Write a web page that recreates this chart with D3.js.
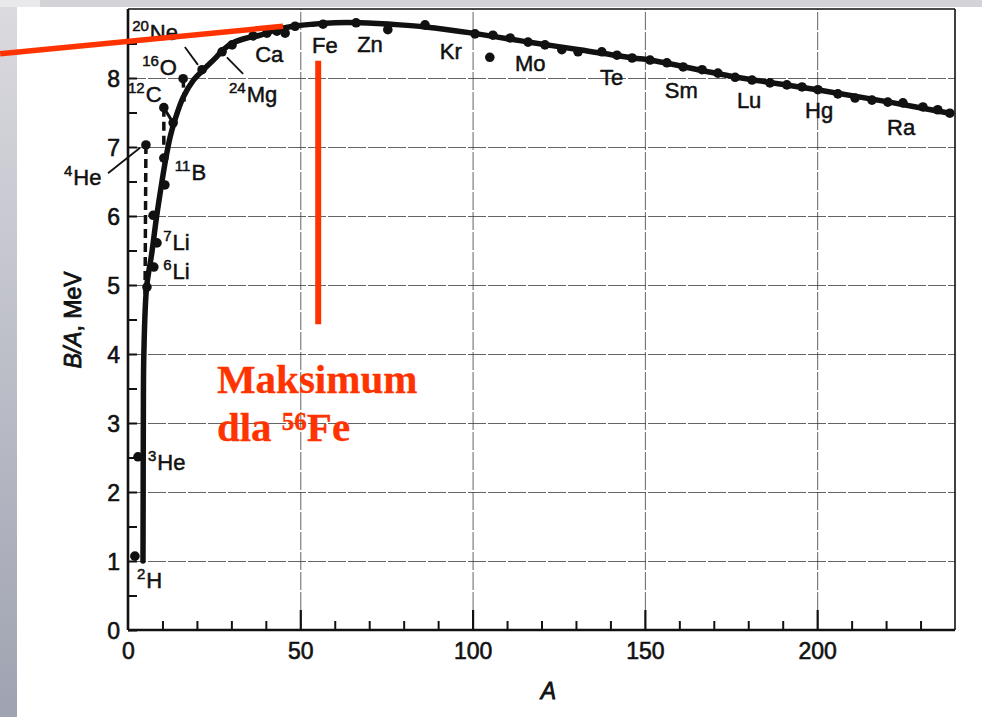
<!DOCTYPE html>
<html>
<head>
<meta charset="utf-8">
<script src="https://cdn.jsdelivr.net/npm/d3@7"></script>
<style>
  body { margin: 0; background: #fff; }
  svg { display: block; font-family: "Liberation Sans", Arial, Helvetica, sans-serif; }
  .grid line { stroke: #3c3c3c; stroke-width: 0.8; stroke-dasharray: 18 2; }
  .ticklabel text { font-size: 23px; fill: #111; stroke: #111; stroke-width: 0.6; }
  .nuclide { font-size: 22px; fill: #111; stroke: #111; stroke-width: 0.5; }
  .red { fill: #ff3300; stroke: #ff3300; }
</style>
</head>
<body>
<script>
// binding energy per nucleon

// measured nuclides (dots): mass number A and B/A in MeV
var dotA = [2.0, 2.9, 5.2, 5.5, 7.5, 8.4, 7.3, 10.7, 10.4, 10.4, 13.1, 16.0, 21.5,
  27.3, 30.2, 36.3, 40.3, 43.2, 45.6, 48.5, 56.6, 66.2, 75.4, 86.2, 100.7, 105.0,
  105.9, 110.9, 116.1, 121.0, 125.9, 130.6, 137.5, 141.9, 146.3, 151.5, 156.4,
  161.1, 166.6, 171.2, 176.2, 181.1, 186.3, 191.2, 195.6, 200.2, 206.0, 211.0,
  215.9, 220.5, 224.9, 230.7, 235.0, 238.5];
var dotB = [1.07, 2.51, 7.03, 4.97, 5.26, 5.61, 6.01, 6.45, 6.84, 7.57, 7.35, 7.99, 8.12,
  8.38, 8.48, 8.61, 8.65, 8.68, 8.65, 8.75, 8.78, 8.80, 8.70, 8.77, 8.64, 8.30,
  8.62, 8.58, 8.52, 8.48, 8.41, 8.38, 8.38, 8.33, 8.29, 8.26, 8.22,
  8.16, 8.12, 8.07, 8.01, 7.97, 7.93, 7.90, 7.87, 7.83, 7.77, 7.71,
  7.68, 7.65, 7.64, 7.58, 7.54, 7.49];

// smooth solid curve through the data
var curveA = [4.35, 4.4, 4.45, 4.6, 5.4, 6.9, 8.3, 9.8, 10.9, 12.2, 13.6, 16.0, 19.0,
  22.3, 25.2, 27.6, 30.5, 34.5, 38.3, 43.2, 47.9, 53.7, 60, 67.3, 78.9, 86.2, 100,
  117.5, 131, 146.5, 151.5, 174.7, 200, 221, 238.5];
var curveB = [1.0, 2.0, 3.0, 4.0, 4.97, 5.46, 5.99, 6.48, 6.81, 7.14, 7.39, 7.72, 7.97,
  8.14, 8.28, 8.41, 8.51, 8.58, 8.62, 8.70, 8.75, 8.78, 8.80, 8.80, 8.77, 8.74, 8.65,
  8.51, 8.41, 8.29, 8.26, 8.03, 7.83, 7.65, 7.49];

// dashed drops from 4He, 12C, 16O back to the curve
var dashFromA = [5.2, 10.4, 16.0];
var dashFromB = [7.03, 7.57, 7.99];
var dashToA = [4.9, 10.4, 16.3];
var dashToB = [4.5, 6.96, 7.65];

// nuclide labels (superscript mass number + symbol), anchored in data units
var labelSup = ["20", "16", "12", "4", "11", "7", "6", "3", "2", "24", "", "", "", "", "", "", "", "", "", ""];
var labelSym = ["Ne", "O", "C", "He", "B", "Li", "Li", "He", "H", "Mg", "Ca", "Fe", "Zn", "Kr", "Mo", "Te", "Sm", "Lu", "Hg", "Ra"];
var labelA = [1.2, 4.1, 0.0, -18.6, 13.6, 10.2, 10.2, 5.8, 2.6, 29.3, 36.9, 53.4, 66.5, 90.5, 112.3, 137, 155.8, 176.7, 196.5, 220.3];
var labelB = [8.55, 8.04, 7.65, 6.45, 6.52, 5.51, 5.09, 2.32, 0.61, 7.65, 8.23, 8.36, 8.38, 8.28, 8.10, 7.90, 7.71, 7.57, 7.42, 7.17];

// leader lines from label to point
var leaderA1 = [-5.8, 16.5, 28.7];
var leaderB1 = [6.62, 8.45, 8.30];
var leaderA2 = [3.5, 20.3, 33.4];
var leaderB2 = [6.99, 8.19, 8.06];

// ticks
var yTicks = [0, 1, 2, 3, 4, 5, 6, 7, 8];
var yMinor = [0.5, 1.5, 2.5, 3.5, 4.5, 5.5, 6.5, 7.5, 8.5];
var xTicks = [0, 50, 100, 150, 200];
var xMinor = [10, 20, 30, 40, 60, 70, 80, 90, 110, 120, 130, 140, 160, 170, 180, 190, 210, 220, 230];
var xMajor = [50, 100, 150, 200];

var width = 982, height = 717;

var svg = d3.select("body").append("svg")
  .attr("width", width)
  .attr("height", height);

// slide background strips
var grad = svg.append("defs").append("linearGradient")
  .attr("id", "side").attr("x1", 0).attr("y1", 0).attr("x2", 0).attr("y2", 1);
grad.append("stop").attr("offset", "0%").attr("stop-color", "#dadadf");
grad.append("stop").attr("offset", "100%").attr("stop-color", "#9fa3b1");

svg.append("rect").attr("x", 0).attr("y", 0).attr("width", 40).attr("height", 7).attr("fill", "#e9e9ec");
svg.append("rect").attr("x", 40).attr("y", 0).attr("width", width - 40).attr("height", 7).attr("fill", "#d3d3d8");
svg.append("rect").attr("x", 0).attr("y", 7).attr("width", 17).attr("height", height - 7).attr("fill", "url(#side)");

var x = d3.scaleLinear().domain([0, 240]).range([128, 955]);
var y = d3.scaleLinear().domain([0, 9]).range([630, 9]);

var g = {
  grid: svg.append("g").attr("id", "grid"),
  axes: svg.append("g").attr("id", "axes"),
  curve: svg.append("g").attr("id", "curve"),
  dots: svg.append("g").attr("id", "dots"),
  labels: svg.append("g").attr("id", "labels"),
  red: svg.append("g").attr("id", "red")
};

// gridlines + tick labels
var yAxis = d3.axisLeft(y).tickValues(yTicks).tickSize(-(x(240) - x(0))).tickPadding(8);
g.grid.append("g").attr("class", "grid ticklabel")
  .attr("transform", translate(x(0), 0))
  .call(yAxis)
  .call(function(s) { s.select(".domain").remove(); })
  .call(function(s) { s.selectAll("text").attr("font-family", null).attr("dy", "0.38em"); });

var xAxis = d3.axisBottom(x).tickValues(xTicks).tickSize(-(y(0) - y(9))).tickPadding(13);
g.grid.append("g").attr("class", "grid ticklabel")
  .attr("transform", translate(0, y(0)))
  .call(xAxis)
  .call(function(s) { s.select(".domain").remove(); })
  .call(function(s) { s.selectAll("text").attr("font-family", null); });

// inner ticks
g.axes.append("g")
  .attr("transform", translate(x(0), 0))
  .call(d3.axisLeft(y).tickValues(yMinor.concat(yTicks)).tickSize(-9).tickFormat(""))
  .call(function(s) { s.select(".domain").remove(); s.selectAll("line").attr("stroke", "#111").attr("stroke-width", 2); });

g.axes.append("g")
  .attr("transform", translate(0, y(0)))
  .call(d3.axisBottom(x).tickValues(xMinor).tickSize(-9).tickFormat(""))
  .call(function(s) { s.select(".domain").remove(); s.selectAll("line").attr("stroke", "#111").attr("stroke-width", 2); });

g.axes.append("g")
  .attr("transform", translate(0, y(0)))
  .call(d3.axisBottom(x).tickValues(xMajor).tickSize(-20).tickFormat(""))
  .call(function(s) { s.select(".domain").remove(); s.selectAll("line").attr("stroke", "#111").attr("stroke-width", 2.2); });

// frame
g.axes.append("line").attr("x1", x(0)).attr("x2", x(0)).attr("y1", y(9)).attr("y2", y(0))
  .attr("stroke", "#111").attr("stroke-width", 2.6);
g.axes.append("line").attr("x1", x(0)).attr("x2", x(240)).attr("y1", y(0)).attr("y2", y(0))
  .attr("stroke", "#111").attr("stroke-width", 2.6);
g.axes.append("line").attr("x1", x(0)).attr("x2", x(240)).attr("y1", y(9)).attr("y2", y(9))
  .attr("stroke", "#111").attr("stroke-width", 1.6);
g.axes.append("line").attr("x1", x(240)).attr("x2", x(240)).attr("y1", y(9)).attr("y2", y(0))
  .attr("stroke", "#111").attr("stroke-width", 1.6);

// axis titles
var ytitle = g.axes.append("text")
  .attr("transform", translate(81, 320) + " rotate(-90)")
  .attr("text-anchor", "middle")
  .attr("font-size", 23)
  .attr("fill", "#111").attr("stroke", "#111").attr("stroke-width", 0.8);
ytitle.append("tspan").attr("font-style", "italic").text("B/A");
ytitle.append("tspan").text(", MeV");

g.axes.append("text")
  .attr("x", x(122)).attr("y", 699)
  .attr("text-anchor", "middle")
  .attr("font-size", 23)
  .attr("font-style", "italic")
  .attr("fill", "#111").attr("stroke", "#111").attr("stroke-width", 0.8)
  .text("A");

// solid curve
var curveData = curveA.map(function(a, i) { return [a, curveB[i]]; });
var line = d3.line()
  .x(function(d) { return x(d[0]); })
  .y(function(d) { return y(d[1]); })
  .curve(d3.curveCatmullRom.alpha(0.5));

g.curve.append("path")
  .datum(curveData)
  .attr("d", line)
  .attr("fill", "none")
  .attr("stroke", "#111")
  .attr("stroke-width", 5.5)
  .attr("stroke-linecap", "round")
  .attr("stroke-linejoin", "round");

// dashed drops
g.curve.selectAll("line.dash")
  .data(dashFromA)
  .enter()
  .append("line")
  .attr("class", "dash")
  .attr("x1", function(d) { return x(d); })
  .attr("y1", function(d, i) { return y(dashFromB[i]); })
  .attr("x2", function(d, i) { return x(dashToA[i]); })
  .attr("y2", function(d, i) { return y(dashToB[i]); })
  .attr("stroke", "#111")
  .attr("stroke-width", 3.5)
  .attr("stroke-dasharray", "9 5");

// 12C joined to its neighbour on the curve
g.curve.append("line")
  .attr("x1", x(dotA[9])).attr("y1", y(dotB[9]))
  .attr("x2", x(dotA[10])).attr("y2", y(dotB[10]))
  .attr("stroke", "#111").attr("stroke-width", 3);

// leaders
g.labels.selectAll("line.leader")
  .data(leaderA1)
  .enter()
  .append("line")
  .attr("class", "leader")
  .attr("x1", function(d) { return x(d); })
  .attr("y1", function(d, i) { return y(leaderB1[i]); })
  .attr("x2", function(d, i) { return x(leaderA2[i]); })
  .attr("y2", function(d, i) { return y(leaderB2[i]); })
  .attr("stroke", "#111")
  .attr("stroke-width", 1.8);

// dots
g.dots.selectAll("circle")
  .data(dotA)
  .enter()
  .append("circle")
  .attr("cx", function(d) { return x(d); })
  .attr("cy", function(d, i) { return y(dotB[i]); })
  .attr("r", 4.8)
  .attr("fill", "#111");

// nuclide labels
var lab = g.labels.selectAll("text.nuclide")
  .data(labelSym)
  .enter()
  .append("text")
  .attr("class", "nuclide")
  .attr("x", function(d, i) { return x(labelA[i]); })
  .attr("y", function(d, i) { return y(labelB[i]); });

lab.append("tspan")
  .attr("font-size", 15)
  .attr("dy", function(d, i) { return labelSup[i] ? -9 : 0; })
  .text(function(d, i) { return labelSup[i]; });
lab.append("tspan")
  .attr("dy", function(d, i) { return labelSup[i] ? 9 : 0; })
  .attr("dx", function(d, i) { return labelSup[i] ? 1 : 0; })
  .text(function(d) { return d; });

// red annotation (iron maximum)
var redSlopeA = [-37.1, 45.0];
var redSlopeB = [8.35, 8.75];
var redFeA = 55.2;
var redFeB = [8.25, 4.43];

g.red.append("line")
  .attr("x1", x(redSlopeA[0])).attr("y1", y(redSlopeB[0]))
  .attr("x2", x(redSlopeA[1])).attr("y2", y(redSlopeB[1]))
  .attr("stroke", "#ff3300").attr("stroke-width", 5.5);

g.red.append("line")
  .attr("x1", x(redFeA)).attr("y1", y(redFeB[0]))
  .attr("x2", x(redFeA)).attr("y2", y(redFeB[1]))
  .attr("stroke", "#ff3300").attr("stroke-width", 6);

var redText = g.red.append("text")
  .attr("class", "red")
  .attr("font-family", "'Liberation Serif', 'Times New Roman', serif")
  .attr("font-weight", "bold")
  .attr("font-size", 41)
  .attr("stroke-width", 0.3);
redText.append("tspan").attr("x", x(25.8)).attr("y", y(3.43)).text("Maksimum");
redText.append("tspan").attr("x", x(25.8)).attr("y", y(2.74)).text("dla ");
redText.append("tspan").attr("font-size", 25).attr("dy", -11).text("56");
redText.append("tspan").attr("font-size", 41).attr("dy", 11).text("Fe");

function translate(x, y) {
  return "translate(" + String(x) + "," + String(y) + ")";
}
</script>
</body>
</html>
